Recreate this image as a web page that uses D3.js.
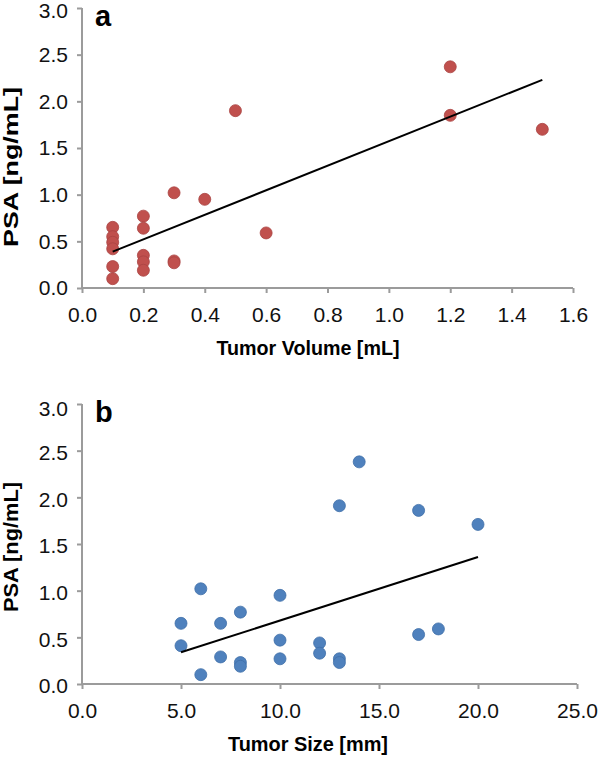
<!DOCTYPE html>
<html>
<head>
<meta charset="utf-8">
<script src="https://cdn.jsdelivr.net/npm/d3@7"></script>
<style>
  body { margin: 0; background: #fff; }
  text { font-family: "Liberation Sans", Arial, sans-serif; }
</style>
</head>
<body>
<svg id="chart" width="600" height="757"></svg>
<script>
// panel a: tumor volume vs PSA
var volumeA = [0.1, 0.1, 0.1, 0.1, 0.1, 0.1, 0.2, 0.2, 0.2, 0.2, 0.2, 0.3, 0.3, 0.3, 0.4, 0.5, 0.6, 1.2, 1.2, 1.5];
var psaA    = [0.65, 0.55, 0.49, 0.42, 0.23, 0.10, 0.77, 0.64, 0.35, 0.28, 0.19, 1.02, 0.29, 0.27, 0.95, 1.90, 0.59, 2.37, 1.85, 1.70];
var trendA  = [[0.1, 0.39], [1.5, 2.23]];
var xTicksA = [0, 0.2, 0.4, 0.6, 0.8, 1.0, 1.2, 1.4, 1.6];

// panel b: tumor size vs PSA
var sizeB  = [5, 5, 6, 6, 7, 7, 8, 8, 8, 10, 10, 10, 12, 12, 13, 13, 13, 14, 17, 17, 18, 20];
var psaB   = [0.65, 0.41, 1.02, 0.10, 0.65, 0.29, 0.77, 0.23, 0.19, 0.95, 0.47, 0.27, 0.44, 0.33, 1.91, 0.27, 0.23, 2.38, 1.86, 0.53, 0.59, 1.71];
var trendB = [[5, 0.34], [20, 1.36]];
var xTicksB = [0, 5, 10, 15, 20, 25];

var yTicks = [0, 0.5, 1.0, 1.5, 2.0, 2.5, 3.0];

var svg = d3.select("#chart");

function drawPanel(opt){
  var g = svg.append("g");
  var x = d3.scaleLinear().domain(opt.xDomain).range([82, opt.xEnd]);
  var y = d3.scaleLinear().domain([0, 3]).range([opt.y0, opt.y0 - 280]);

  var xAxis = g.append("g")
      .attr("transform", "translate(0," + opt.y0 + ")")
      .call(d3.axisBottom(x).tickValues(opt.xTicks).tickFormat(d3.format(".1f")).tickSize(5).tickPadding(14));

  var yAxis = g.append("g")
      .attr("transform", "translate(82,0)")
      .call(d3.axisLeft(y).tickValues(yTicks).tickFormat(d3.format(".1f")).tickSize(5).tickPadding(9));

  [xAxis, yAxis].forEach(function(ax){
    ax.selectAll("path, line").attr("stroke", "#9b9b9b").attr("stroke-width", 2);
    ax.selectAll("text")
      .attr("fill", "#111")
      .style("font-size", "21px");
  });
  // top label sits a little lower than its tick
  yAxis.selectAll(".tick text")
    .attr("y", d => d === 3 ? 3 + opt.labelShift : opt.labelShift);
  xAxis.select(".domain").attr("d", "M82,0H" + opt.xEnd);
  yAxis.select(".domain").attr("d", "M0," + opt.y0 + "V" + (opt.y0 - 280));

  g.selectAll(".dot")
    .data(opt.xs.map((d, i) => [d, opt.ys[i]]))
    .enter()
    .append("circle")
      .classed("dot", true)
      .attr("cx", d => x(d[0]))
      .attr("cy", d => y(d[1]))
      .attr("r", 6)
      .attr("fill", opt.color)
      .attr("stroke", opt.edge)
      .attr("stroke-width", 0.8);

  g.append("path")
    .attr("d", d3.line().x(d => x(d[0])).y(d => y(d[1]))(opt.trend))
    .attr("stroke", "#000")
    .attr("stroke-width", 2)
    .attr("fill", "none");

  g.append("text")
    .attr("x", 95)
    .attr("y", opt.y0 - 262)
    .attr("font-size", "29px")
    .attr("font-weight", "bold")
    .text(opt.letter);

  g.append("text")
    .attr("x", opt.xTitleX)
    .attr("y", opt.y0 + 67)
    .attr("font-size", "21px")
    .attr("font-weight", "bold")
    .attr("text-anchor", "middle")
    .attr("textLength", opt.xTitleLen)
    .attr("lengthAdjust", "spacingAndGlyphs")
    .text(opt.xTitle);

  g.append("text")
    .attr("transform", "translate(18," + opt.yTitleY + ") rotate(-90)")
    .attr("font-size", "20px")
    .attr("font-weight", "bold")
    .attr("text-anchor", "middle")
    .attr("textLength", opt.yTitleLen)
    .attr("lengthAdjust", "spacingAndGlyphs")
    .text("PSA [ng/mL]");
}

drawPanel({
  xs: volumeA, ys: psaA, trend: trendA, xTicks: xTicksA,
  xDomain: [0, 1.6], xEnd: 573, y0: 288, labelShift: 0,
  color: "#c0504d", edge: "#a94442", letter: "a",
  xTitle: "Tumor Volume [mL]", xTitleX: 308, xTitleLen: 183,
  yTitleY: 167, yTitleLen: 160
});

drawPanel({
  xs: sizeB, ys: psaB, trend: trendB, xTicks: xTicksB,
  xDomain: [0, 25], xEnd: 577, y0: 684, labelShift: 2,
  color: "#4f81bd", edge: "#3f6fa8", letter: "b",
  xTitle: "Tumor Size [mm]", xTitleX: 308, xTitleLen: 160,
  yTitleY: 547, yTitleLen: 130
});
</script>
</body>
</html>
